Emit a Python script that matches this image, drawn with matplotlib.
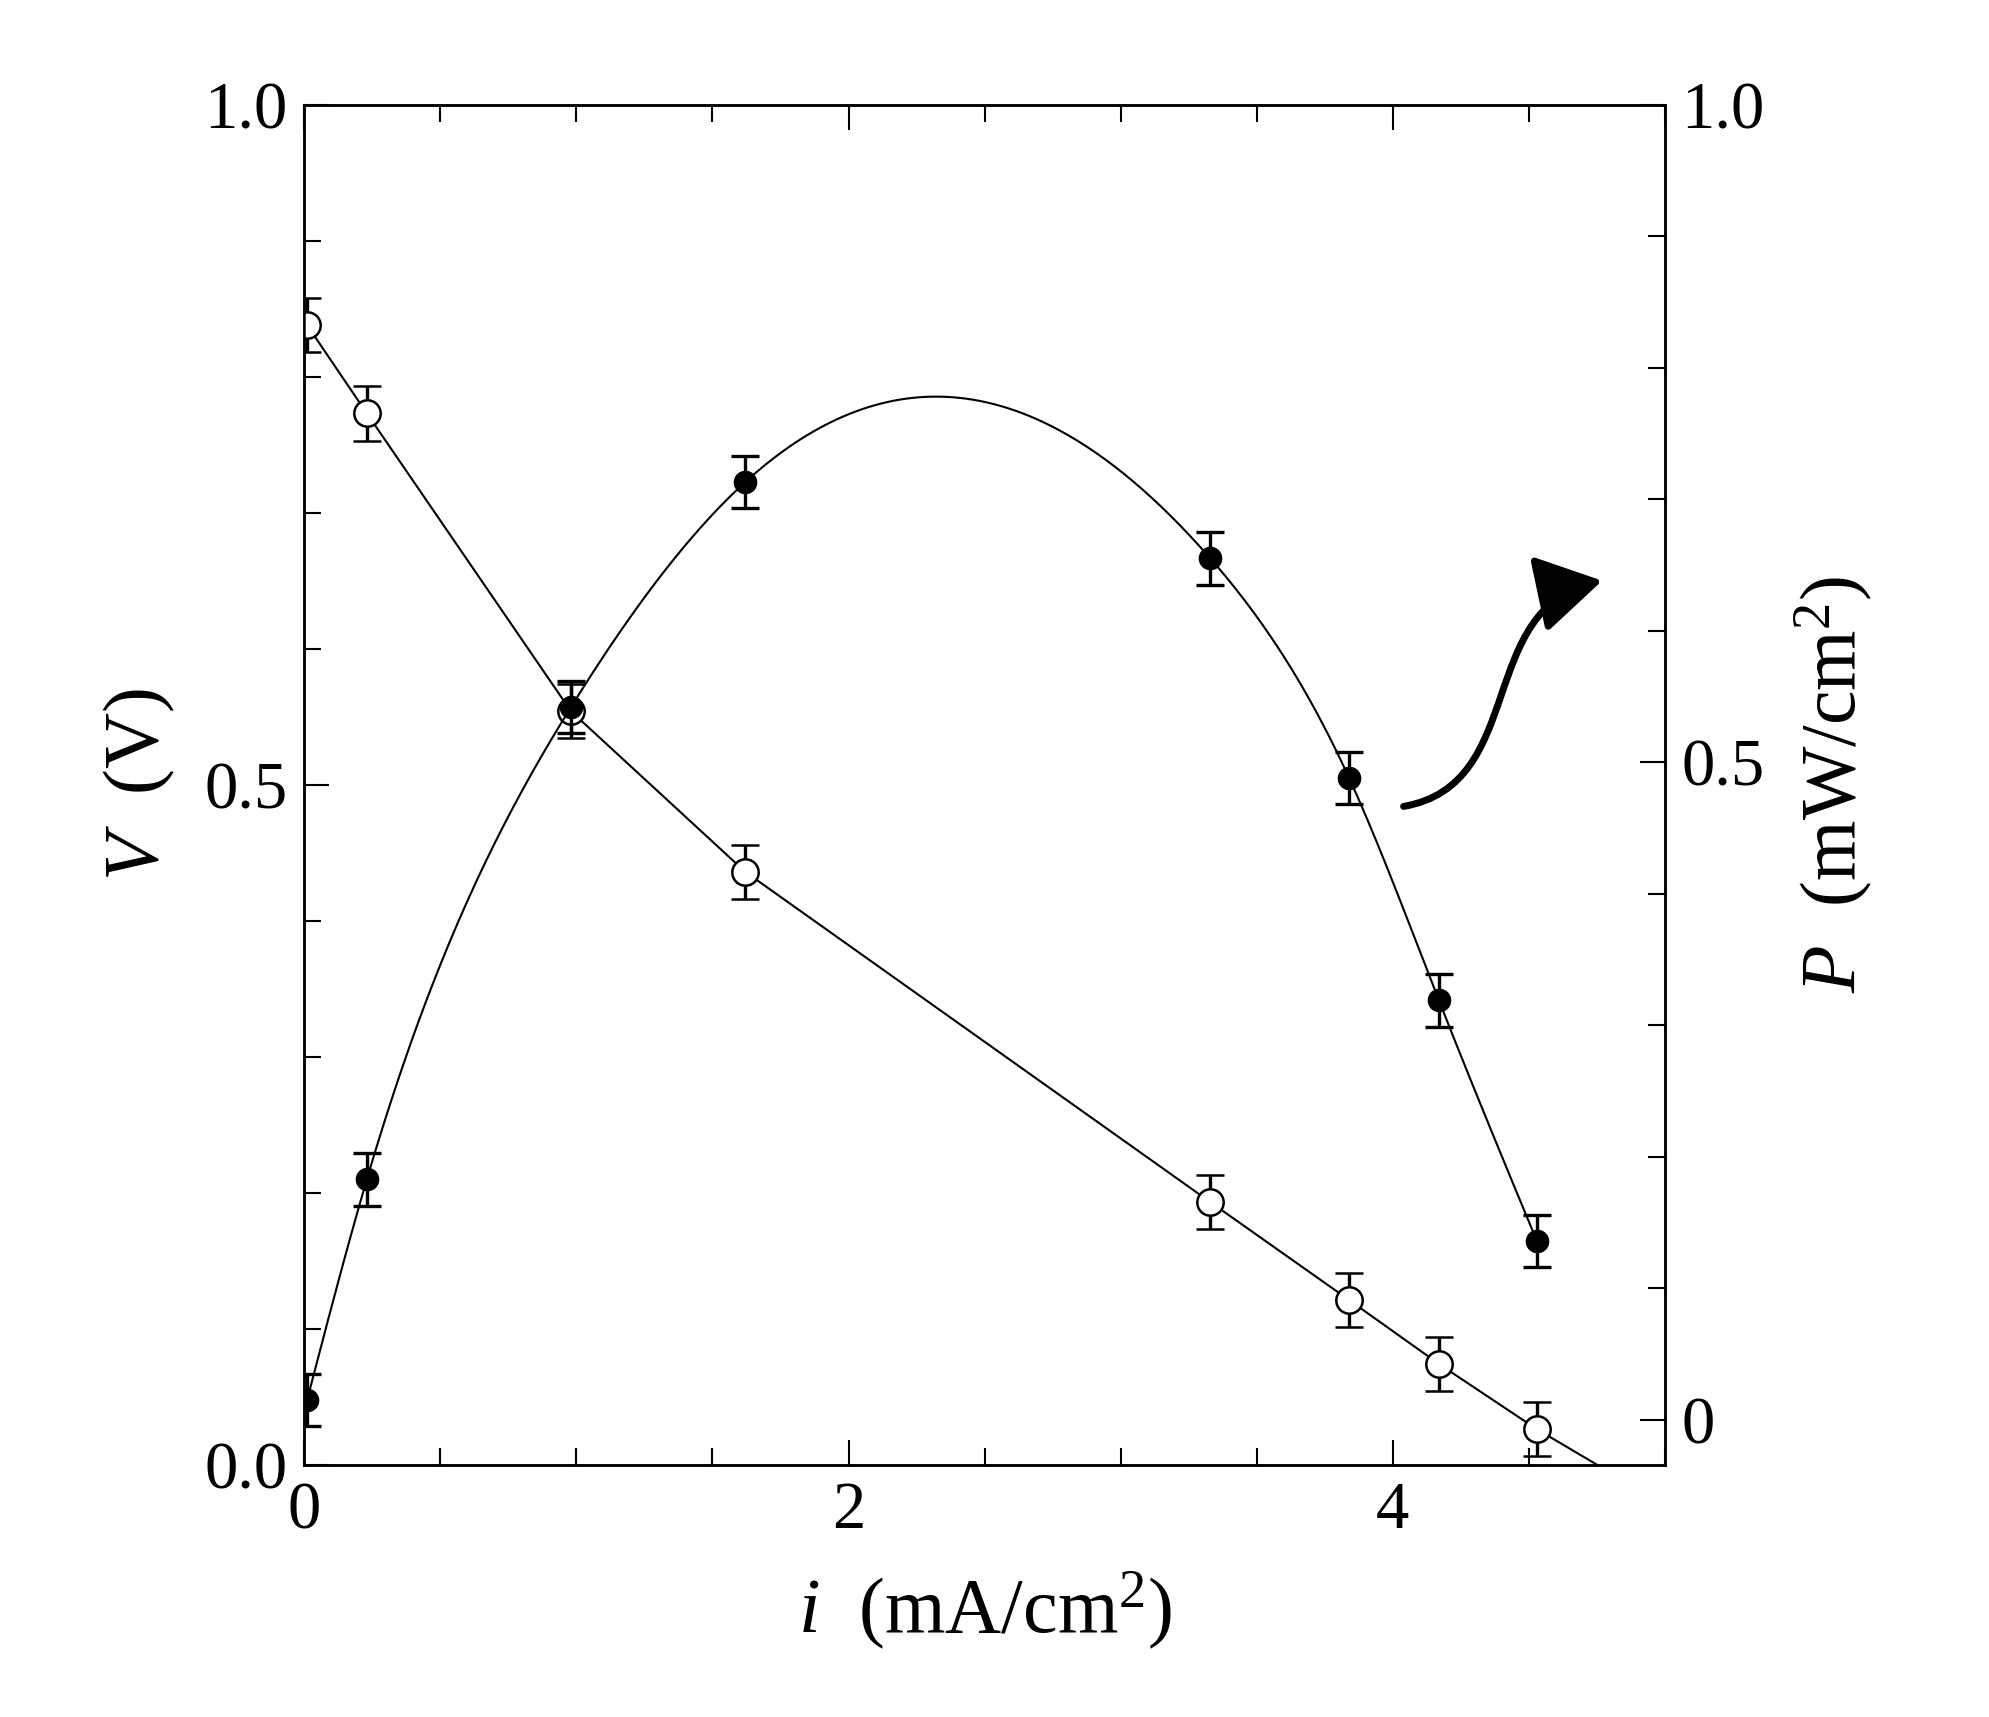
import numpy as np
import matplotlib
matplotlib.use("Agg")
import matplotlib.pyplot as plt
from matplotlib.patches import FancyArrowPatch
from matplotlib.path import Path
from matplotlib.ticker import MultipleLocator

plt.rcParams['font.family'] = ['Liberation Serif', 'DejaVu Serif']
plt.rcParams['mathtext.fontset'] = 'custom'
plt.rcParams['mathtext.it'] = 'Liberation Serif:italic'
plt.rcParams['mathtext.rm'] = 'Liberation Serif'

i_vals = [0.01, 0.23, 0.98, 1.62, 3.33, 3.84, 4.17, 4.53]
V_vals = [0.838, 0.773, 0.554, 0.436, 0.193, 0.121, 0.074, 0.026]
V_err = [0.02, 0.02, 0.02, 0.02, 0.02, 0.02, 0.02, 0.02]
P_vals = [0.015, 0.183, 0.542, 0.713, 0.655, 0.488, 0.319, 0.136]
P_err = [0.02, 0.02, 0.02, 0.02, 0.02, 0.02, 0.02, 0.02]
V_line_end = (4.75, 0.0)

def natural_spline(x, y, n=400):
    x = np.asarray(x); y = np.asarray(y)
    m = len(x); h = np.diff(x)
    A = np.zeros((m, m)); b = np.zeros(m)
    A[0, 0] = A[-1, -1] = 1
    for k in range(1, m - 1):
        A[k, k-1] = h[k-1]; A[k, k] = 2*(h[k-1]+h[k]); A[k, k+1] = h[k]
        b[k] = 3*((y[k+1]-y[k])/h[k] - (y[k]-y[k-1])/h[k-1])
    c = np.linalg.solve(A, b)
    xs = np.linspace(x[0], x[-1], n); ys = np.empty_like(xs)
    for j, xv in enumerate(xs):
        k = min(np.searchsorted(x, xv, side='right') - 1, m - 2)
        d = xv - x[k]
        bb = (y[k+1]-y[k])/h[k] - h[k]*(2*c[k]+c[k+1])/3
        dd = (c[k+1]-c[k])/(3*h[k])
        ys[j] = y[k] + bb*d + c[k]*d**2 + dd*d**3
    return xs, ys

fig = plt.figure(figsize=(19.89, 17.17), dpi=100)
ax = fig.add_axes([0.153, 0.147, 0.684, 0.792])
ax2 = ax.twinx()

ax.plot(i_vals + [V_line_end[0]], V_vals + [V_line_end[1]], color='black', lw=1.5)
ax.errorbar(i_vals, V_vals, yerr=V_err, fmt='o', mfc='white', mec='black', ecolor='black',
            ms=19, mew=1.8, capsize=10, elinewidth=2.4, capthick=2.4, zorder=5)

xs, ys = natural_spline(i_vals, P_vals)
ax2.plot(xs, ys, color='black', lw=1.5)
ax2.errorbar(i_vals, P_vals, yerr=P_err, fmt='o', color='black', ms=16,
             capsize=10, elinewidth=2.4, capthick=2.4, zorder=5)

ax.set_xlim(0, 5); ax.set_ylim(0, 1)
ax2.set_ylim(-0.034, 1.0)
ax.set_xticks([0, 2, 4]); ax.xaxis.set_minor_locator(MultipleLocator(0.5))
ax.set_yticks([0, 0.5, 1.0]); ax.set_yticklabels(['0.0', '0.5', '1.0'])
ax.yaxis.set_minor_locator(MultipleLocator(0.1))
ax2.set_yticks([0, 0.5, 1.0]); ax2.set_yticklabels(['0', '0.5', '1.0'])
ax2.yaxis.set_minor_locator(MultipleLocator(0.1))
ax.tick_params(which='both', direction='in', top=True, labelsize=48, width=1.5, pad=12)
ax.tick_params(which='major', length=18); ax.tick_params(which='minor', length=12)
ax2.tick_params(which='both', direction='in', labelsize=48, width=1.5, pad=12)
ax2.tick_params(which='major', length=18); ax2.tick_params(which='minor', length=12)
for a in (ax, ax2):
    for s in a.spines.values():
        s.set_linewidth(1.8)

ax.set_xlabel(r'$i$  (mA/cm$^2$)', fontsize=56, labelpad=20)
ax.set_ylabel(r'$V$  (V)', fontsize=56, labelpad=20)
ax2.set_ylabel(r'$P$  (mW/cm$^2$)', fontsize=56, labelpad=20)

verts = [(4.04, 0.484), (4.5, 0.50), (4.3, 0.63), (4.77, 0.65)]
path = Path(verts, [Path.MOVETO, Path.CURVE4, Path.CURVE4, Path.CURVE4])
path = ax.transData.transform_path(path)
arr = FancyArrowPatch(path=path, transform=None,
                      arrowstyle='-|>,head_length=1.0,head_width=0.6',
                      lw=5, color='black', clip_on=False, mutation_scale=40)
fig.add_artist(arr)

fig.savefig('out.png', dpi=100)
